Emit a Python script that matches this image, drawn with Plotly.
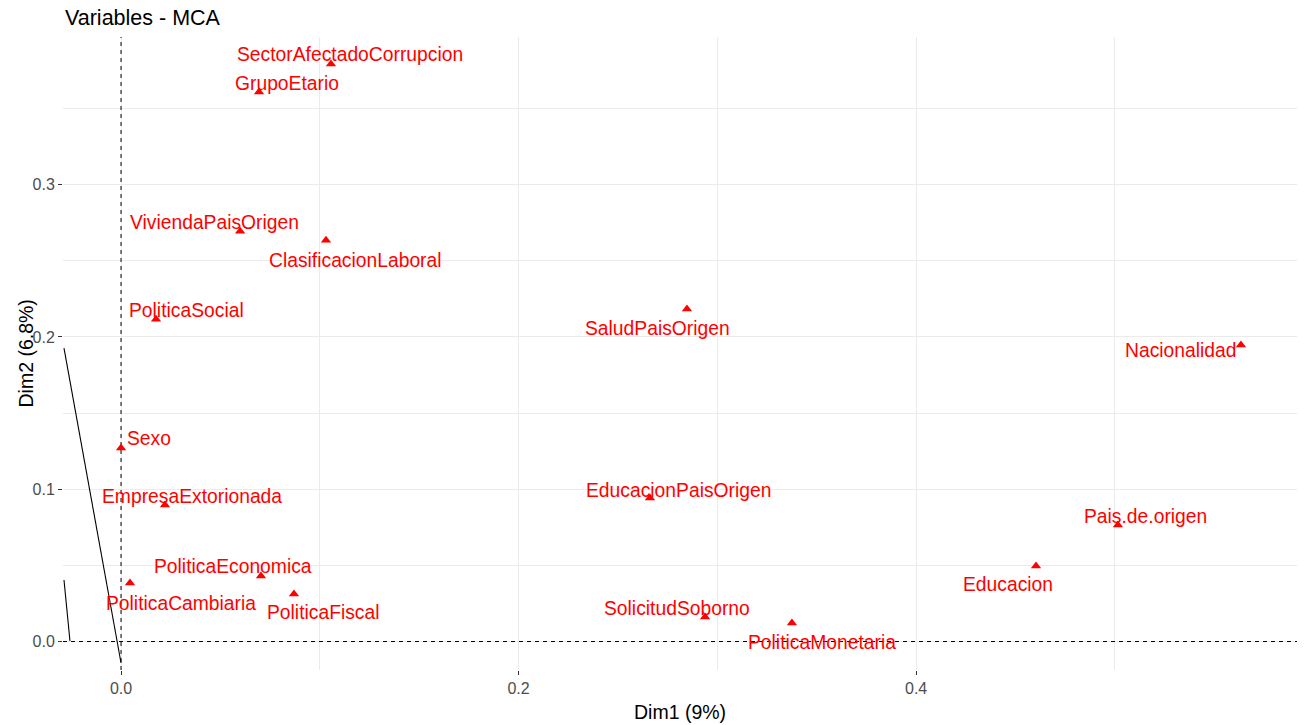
import plotly.graph_objects as go

# ---- data ----
variables = [
    "SectorAfectadoCorrupcion", "GrupoEtario", "ViviendaPaisOrigen", "ClasificacionLaboral",
    "PoliticaSocial", "SaludPaisOrigen", "Nacionalidad", "Sexo", "EmpresaExtorionada",
    "EducacionPaisOrigen", "Pais.de.origen", "Educacion", "PoliticaEconomica",
    "PoliticaCambiaria", "PoliticaFiscal", "SolicitudSoborno", "PoliticaMonetaria",
]
dim1 = [0.1056, 0.0694, 0.0599, 0.1031, 0.0176, 0.2847, 0.5634, 0.0000, 0.0221,
        0.2661, 0.5015, 0.4603, 0.0704, 0.0045, 0.0870, 0.2938, 0.3375]
dim2 = [0.3792, 0.3608, 0.2695, 0.2636, 0.2117, 0.2183, 0.1947, 0.1271, 0.0896,
        0.0942, 0.0765, 0.0496, 0.0430, 0.0384, 0.0312, 0.0161, 0.0122]

# stray black segments visible in the original
seg1_x = [-0.0287, 0.0000]
seg1_y = [0.1927, -0.0141]
seg2_x = [-0.0287, -0.0257]
seg2_y = [0.0404, 0.0003]

x_ticks = [0.0, 0.2, 0.4]
y_ticks = [0.0, 0.1, 0.2, 0.3]
x_range = [-0.0292, 0.5916]
y_range = [-0.0187, 0.397]

# ---- label placement (pixel shifts, repel-like) ----
label_shift = {
    "SectorAfectadoCorrupcion": (19, -10), "GrupoEtario": (28, -9),
    "ViviendaPaisOrigen": (-26, -9), "ClasificacionLaboral": (30, 20),
    "PoliticaSocial": (30, -9), "SaludPaisOrigen": (-29, 19),
    "Nacionalidad": (-60, 5), "Sexo": (28, -9), "EmpresaExtorionada": (27, -9),
    "EducacionPaisOrigen": (29, -8), "Pais.de.origen": (28, -9),
    "Educacion": (-28, 18), "PoliticaEconomica": (-28, -10),
    "PoliticaCambiaria": (51, 20), "PoliticaFiscal": (30, 18),
    "SolicitudSoborno": (-28, -9), "PoliticaMonetaria": (30, 20),
}

RED = "#FF0000"
FONT = "Liberation Sans, Arial, sans-serif"
W, H = 1304, 725

fig = go.Figure()

# dashed reference lines at 0 (as traces so they sit above the grid)
dash_line = dict(color="black", width=1, dash="4px,4px")
fig.add_trace(go.Scatter(x=[0, 0], y=y_range, mode="lines", line=dash_line,
                         hoverinfo="skip", showlegend=False, cliponaxis=True))
fig.add_trace(go.Scatter(x=x_range, y=[0, 0], mode="lines", line=dash_line,
                         hoverinfo="skip", showlegend=False, cliponaxis=True))

for sx, sy in [(seg1_x, seg1_y), (seg2_x, seg2_y)]:
    fig.add_trace(go.Scatter(x=sx, y=sy, mode="lines",
                             line=dict(color="black", width=1.1),
                             hoverinfo="skip", showlegend=False))

fig.add_trace(go.Scatter(
    x=dim1, y=dim2, mode="markers",
    marker=dict(symbol="triangle-up", size=9, color=RED, line=dict(width=0)),
    text=variables, hoverinfo="text", showlegend=False,
))

for name, xv, yv in zip(variables, dim1, dim2):
    dx, dy = label_shift[name]
    fig.add_annotation(x=xv, y=yv, text=name, showarrow=False,
                       xshift=dx, yshift=-dy, xanchor="center", yanchor="middle",
                       font=dict(color=RED, size=19.3, family=FONT))

# axis titles
fig.add_annotation(text="Dim1 (9%)", xref="paper", yref="paper", x=0.5, y=0,
                   yshift=-(712 - 670), xanchor="center", yanchor="middle",
                   showarrow=False, font=dict(size=19.5, color="black", family=FONT))
fig.add_annotation(text="Dim2 (6.8%)", xref="paper", yref="paper", x=0, y=0.5,
                   xshift=-(63 - 25), xanchor="center", yanchor="middle", textangle=-90,
                   showarrow=False, font=dict(size=19.5, color="black", family=FONT))

fig.update_layout(
    width=W, height=H,
    margin=dict(l=63, r=W - 1297, t=37, b=H - 670),
    paper_bgcolor="white", plot_bgcolor="white",
    font=dict(family=FONT),
    title=dict(text="Variables - MCA", x=65 / W, xanchor="left",
               xref="container", y=1 - 17 / H, yanchor="middle", yref="container",
               font=dict(size=21.5, color="black", family=FONT)),
    showlegend=False,
)

common = dict(
    showgrid=True, gridcolor="#EBEBEB", gridwidth=1.1,
    zeroline=False, showline=False, automargin=False,
    ticks="outside", ticklen=4, tickcolor="#333333", tickwidth=1,
    tickfont=dict(size=16, color="#4D4D4D", family=FONT), tickformat=".1f",
)
fig.update_xaxes(range=x_range, tickvals=x_ticks,
                 minor=dict(dtick=0.1, tick0=0, showgrid=True, gridcolor="#EBEBEB", gridwidth=0.8),
                 **common)
fig.update_yaxes(range=y_range, tickvals=y_ticks,
                 minor=dict(dtick=0.05, tick0=0, showgrid=True, gridcolor="#EBEBEB", gridwidth=0.8),
                 **common)

fig.write_html("out.html", config={"displayModeBar": False},
               post_script="document.body.style.margin='0';document.body.style.overflow='hidden';")
